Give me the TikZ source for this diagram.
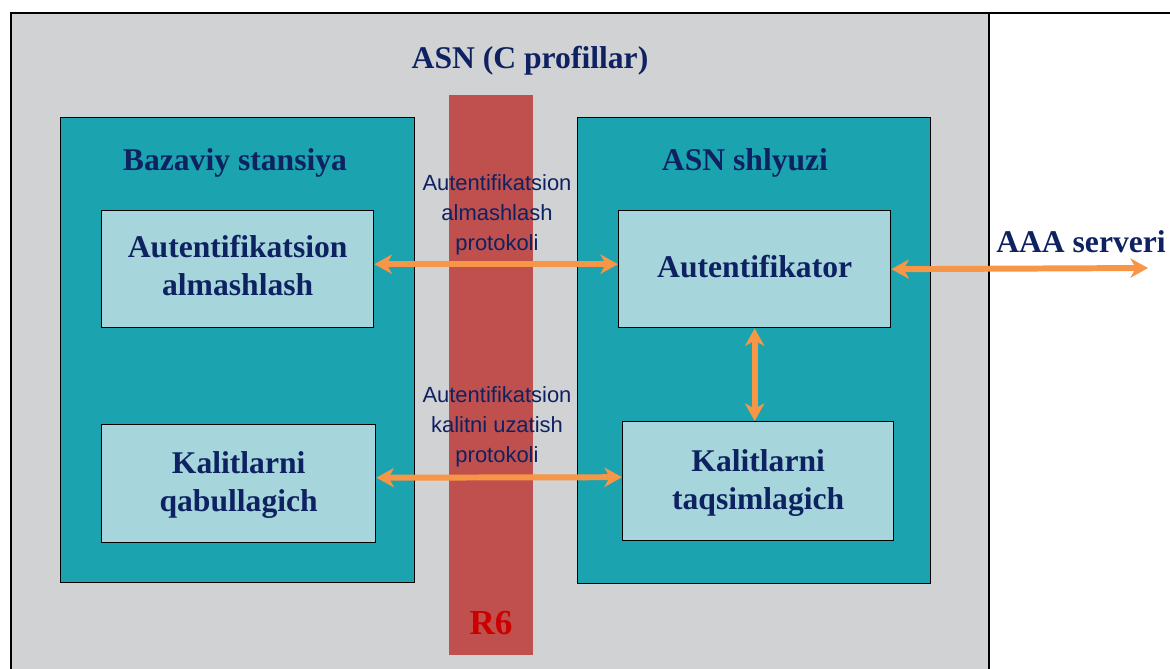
\documentclass[tikz,border=0pt]{standalone}
\usepackage{fontspec}
\setmainfont{Liberation Serif}
\newfontfamily\protofont{Liberation Sans}
\usetikzlibrary{arrows.meta,positioning}

\definecolor{asngray}{RGB}{209,210,212}
\definecolor{tealdark}{RGB}{27,163,176}
\definecolor{teallight}{RGB}{166,214,219}
\definecolor{navytext}{RGB}{14,34,98}
\definecolor{barred}{RGB}{192,80,77}
\definecolor{rsixred}{RGB}{204,0,0}
\definecolor{arroworange}{RGB}{247,150,70}

\begin{document}
\begin{tikzpicture}[
    x=0.02cm, y=-0.02cm,
    container/.style={rectangle, draw=black, line width=0.8pt, fill=tealdark, anchor=north west, inner sep=0pt},
    unit/.style={rectangle, draw=black, line width=0.8pt, fill=teallight, anchor=north west, inner sep=0pt},
    unittext/.style={text=navytext, align=center, font=\fontsize{18}{21.5}\selectfont\bfseries},
    heading/.style={text=navytext, font=\fontsize{18}{21.5}\selectfont\bfseries},
    proto/.style={text=navytext, align=center, font=\protofont\fontsize{12.5}{17}\selectfont},
    link/.style={arroworange, line width=3.4pt, {Stealth[length=10pt,width=11pt,inset=3pt]}-{Stealth[length=10pt,width=11pt,inset=3pt]}}
]
\useasboundingbox (0,0) rectangle (1170,669);

% fon va ramka
\fill[asngray] (11,13) rectangle (989,669);
\draw[line width=1.7pt] (10,13) -- (1170,13);
\draw[line width=1.7pt] (11,13) -- (11,669);
\draw[line width=0.8pt] (989,13) -- (989,669);

% R6 interfeysi
\node (bar) [rectangle, fill=barred, anchor=north west, inner sep=0pt,
    minimum width=1.68cm, minimum height=11.2cm] at (449,95) {};
\node (rsix) [text=rsixred, font=\fontsize{20}{24}\selectfont\bfseries] at (491,623) {R6};

% sarlavha
\node (title) [heading] at (530,61) {ASN (C profillar)};

% bazaviy stansiya
\node (bs) [container, minimum width=7.08cm, minimum height=9.3cm] at (60,117) {};
\node (bstitle) [heading] at (235,163) {Bazaviy stansiya};
\node (exch) [unit, minimum width=5.44cm, minimum height=2.34cm] at (101,210) {};
\node [unittext] at ([yshift=0.07cm]exch.center) {Autentifikatsion\\almashlash};
\node (recv) [unit, minimum width=5.48cm, minimum height=2.36cm] at (101,424) {};
\node [unittext] at ([yshift=-0.03cm]recv.center) {Kalitlarni\\qabullagich};

% ASN shlyuzi
\node (gw) [container, minimum width=7.06cm, minimum height=9.32cm] at (577,117) {};
\node (gwtitle) [heading] at (745,163) {ASN shlyuzi};
\node (authr) [unit, minimum width=5.44cm, minimum height=2.34cm] at (618,210) {};
\node [unittext] at ([yshift=0.05cm]authr.center) {Autentifikator};
\node (distr) [unit, minimum width=5.42cm, minimum height=2.38cm] at (622,421) {};
\node [unittext] at ([yshift=-0.03cm]distr.center) {Kalitlarni\\taqsimlagich};

% protokollar
\node (proto1) [proto] at (497,215) {Autentifikatsion\\almashlash\\protokoli};
\node (proto2) [proto] at (497,427) {Autentifikatsion\\kalitni uzatish\\protokoli};

% AAA server
\node (aaa) [heading] at (1081,242) {AAA serveri};
\coordinate (aaaend) at (1148,268);

% strelkalar
\draw [link] ([yshift=0.1cm]exch.east) -- ([yshift=0.1cm]authr.west);
\draw [link] ([yshift=0.12cm]recv.east) -- ([yshift=0.08cm]distr.west);
\draw [link] (authr.south) -- (authr.south |- distr.north);
\draw [link] (authr.east) -- (aaaend);

\end{tikzpicture}
\end{document}
